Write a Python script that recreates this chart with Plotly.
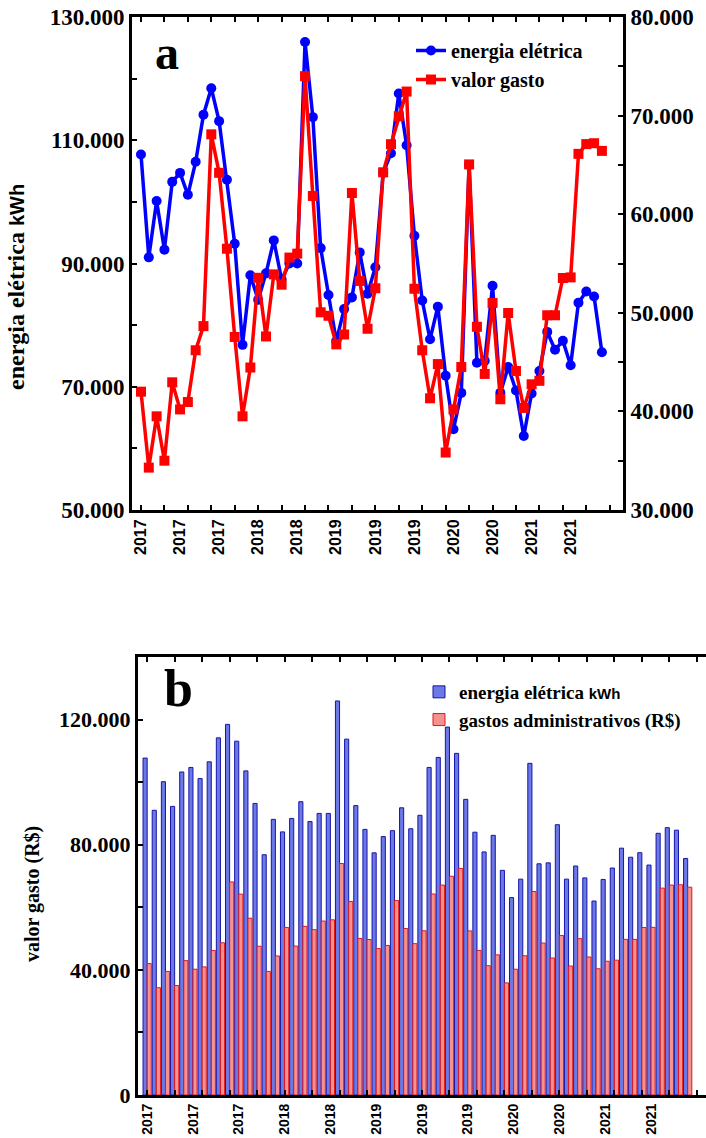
import plotly.graph_objects as go

# ---------------- data ----------------
meses = list(range(60))  # monthly index, Jan 2017 .. Dec 2021

energia_kwh = [107700, 91000, 100150, 92250, 103250, 104700, 101150, 106500, 114150, 118450,
               113100, 103600, 93200, 76800, 88100, 84100, 88400, 93750, 87400, 90000,
               90000, 125950, 113750, 92500, 84900, 77400, 82600, 84500, 91800, 85100,
               89400, 104700, 107900, 117600, 109200, 94500, 84000, 77700, 83000, 71800,
               63100, 69000, 106000, 73900, 74200, 86400, 69000, 73200, 69400, 62000,
               68900, 72550, 78900, 76000, 77450, 73500, 83650, 85450, 84650, 75600]

gastos_rs = [42000, 34300, 39500, 35000, 42950, 40200, 40950, 46200, 48650, 68100,
             64200, 56500, 47550, 39500, 44450, 53550, 47600, 53900, 52850, 55600,
             56000, 74000, 61850, 50050, 49700, 46800, 47800, 62150, 53230, 48380,
             52490, 64250, 67100, 69930, 72440, 52440, 46200, 41330, 44800, 35830,
             40200, 44500, 65050, 48580, 43800, 51000, 41230, 49980, 44100, 40350,
             42750, 43100, 49750, 49750, 53530, 53590, 66120, 67110, 67200, 66420]

rotulos_ano = ["2017", "2017", "2017", "2018", "2018", "2019",
               "2019", "2019", "2020", "2020", "2021", "2021"]
pos_rotulos = [0, 5, 10, 15, 20, 25, 30, 35, 40, 45, 50, 55]
pos_marcas_x = list(range(0, 61, 3))

ticks_esq = list(range(50000, 130001, 10000))
ticks_dir = list(range(30000, 80001, 5000))
ticks_bar = list(range(0, 140001, 20000))


def fmt(v):
    return f"{v:,}".replace(",", ".")

txt_esq = [fmt(v) if (v - 50000) % 20000 == 0 else "" for v in ticks_esq]
txt_dir = [fmt(v) if v % 10000 == 0 else "" for v in ticks_dir]
txt_bar = [fmt(v) if v % 40000 == 0 else "" for v in ticks_bar]

# ---------------- figure ----------------
W, H = 706, 1138
SERIF = "Liberation Serif"
SANS = "Liberation Sans"


def px_x(p):
    return p / W


def px_y(p):
    return 1 - p / H


fig = go.Figure()

fig.add_trace(go.Scatter(
    x=meses, y=energia_kwh, name="energia elétrica", mode="lines+markers",
    xaxis="x", yaxis="y",
    line=dict(color="#0000FF", width=3.5),
    marker=dict(symbol="circle", size=10, color="#0000FF"),
    legend="legend",
))
fig.add_trace(go.Scatter(
    x=meses, y=gastos_rs, name="valor gasto", mode="lines+markers",
    xaxis="x", yaxis="y2",
    line=dict(color="#FF0000", width=3.5),
    marker=dict(symbol="square", size=10, color="#FF0000"),
    legend="legend",
))

fig.add_trace(go.Bar(
    x=meses, y=energia_kwh,
    name="energia elétrica <span style='font-family:Liberation Sans;font-size:15px'>kWh</span>",
    xaxis="x2", yaxis="y3",
    marker=dict(color="#6C78E4", line=dict(color="#1616A8", width=1)),
    legend="legend2",
))
fig.add_trace(go.Bar(
    x=meses, y=gastos_rs, name="gastos administrativos (R$)",
    xaxis="x2", yaxis="y3",
    marker=dict(color="#F49292", line=dict(color="#E01818", width=1)),
    legend="legend2",
))

tickfont_y = dict(family=SERIF, size=23, color="black", weight="bold")

fig.update_layout(
    width=W, height=H,
    template="none",
    paper_bgcolor="white", plot_bgcolor="white",
    margin=dict(l=0, r=0, t=0, b=0),
    barmode="group", bargap=0.1, bargroupgap=0,
    xaxis=dict(
        domain=[px_x(132), px_x(623)], anchor="y",
        range=[-1.15, 61.7],
        tickmode="array", tickvals=pos_rotulos, ticktext=rotulos_ano,
        tickangle=-90, ticks="", showgrid=False, zeroline=False,
        tickfont=dict(family=SANS, size=16, color="black", weight="bold"),
        showline=True, linewidth=3, linecolor="black", mirror="ticks",
        minor=dict(tickmode="array", tickvals=pos_marcas_x, ticks="inside",
                   ticklen=5, tickwidth=2, tickcolor="black", showgrid=False),
    ),
    yaxis=dict(
        domain=[px_y(510), px_y(17)], anchor="x",
        range=[50000, 130000],
        tickmode="array", tickvals=ticks_esq, ticktext=txt_esq,
        ticks="inside", ticklen=5, tickwidth=2, tickcolor="black",
        showgrid=False, zeroline=False,
        tickfont=tickfont_y,
        showline=True, linewidth=3, linecolor="black", mirror=False,
    ),
    yaxis2=dict(
        overlaying="y", side="right", anchor="x",
        range=[30000, 80000],
        tickmode="array", tickvals=ticks_dir, ticktext=txt_dir,
        ticks="inside", ticklen=5, tickwidth=2, tickcolor="black",
        showgrid=False, zeroline=False,
        tickfont=tickfont_y,
        showline=True, linewidth=3, linecolor="black",
    ),
    xaxis2=dict(
        domain=[px_x(138), 1.0], anchor="y3",
        range=[-1.0, 61.0],
        tickmode="array", tickvals=pos_rotulos, ticktext=rotulos_ano,
        tickangle=-90, ticks="", showgrid=False, zeroline=False,
        tickfont=dict(family=SANS, size=14, color="black", weight="bold"),
        showline=True, linewidth=3, linecolor="black", mirror="ticks",
        minor=dict(tickmode="array", tickvals=pos_marcas_x, ticks="inside",
                   ticklen=5, tickwidth=2, tickcolor="black", showgrid=False),
    ),
    yaxis3=dict(
        domain=[px_y(1095), px_y(657)], anchor="x2",
        range=[0, 140000],
        tickmode="array", tickvals=ticks_bar, ticktext=txt_bar,
        ticks="inside", ticklen=5, tickwidth=2, tickcolor="black",
        showgrid=False, zeroline=False,
        tickfont=dict(family=SERIF, size=22, color="black", weight="bold"),
        showline=True, linewidth=3, linecolor="black", mirror=False,
    ),
    legend=dict(
        x=px_x(411), y=px_y(31), xanchor="left", yanchor="top",
        bgcolor="rgba(0,0,0,0)", borderwidth=0, tracegroupgap=0,
        font=dict(family=SERIF, size=20, color="black", weight="bold"),
    ),
    legend2=dict(
        x=px_x(419), y=px_y(673), xanchor="left", yanchor="top",
        bgcolor="rgba(0,0,0,0)", borderwidth=0, tracegroupgap=0,
        font=dict(family=SERIF, size=19, color="black", weight="bold"),
    ),
    showlegend=True,
)

annots = [
    dict(text="a", x=px_x(167), y=px_y(52), font=dict(family=SERIF, size=48, color="black", weight="bold")),
    dict(text="b", x=px_x(178), y=px_y(688), font=dict(family=SERIF, size=52, color="black", weight="bold")),
    dict(text="energia elétrica <span style='font-family:Liberation Sans;font-size:20px'>kWh</span>",
         x=px_x(16), y=px_y(287), textangle=-90,
         font=dict(family=SERIF, size=24, color="black", weight="bold")),
    dict(text="valor gasto (R$)", x=px_x(32), y=px_y(894), textangle=-90,
         font=dict(family=SERIF, size=20, color="black", weight="bold")),
]
for a in annots:
    fig.add_annotation(xref="paper", yref="paper", showarrow=False,
                       xanchor="center", yanchor="middle", **a)

fig.write_html(
    "out.html",
    config={"displayModeBar": False},
    post_script="document.body.style.margin='0';document.body.style.overflow='hidden';",
)
